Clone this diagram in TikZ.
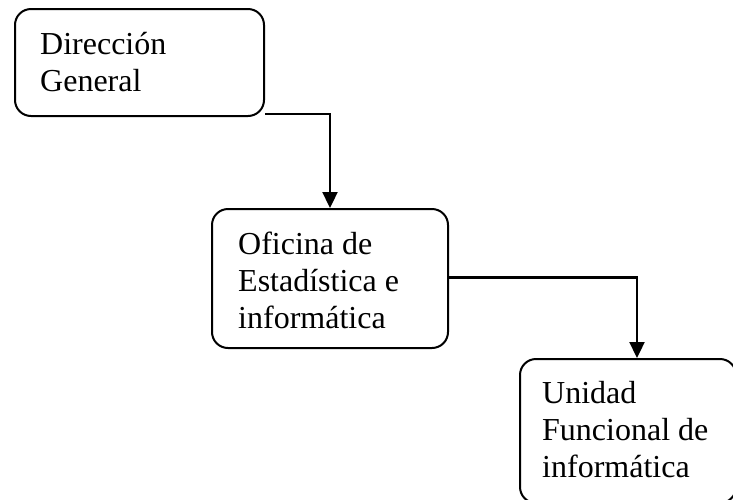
\documentclass[tikz,border=0pt]{standalone}
\usepackage{fontspec}
\setmainfont{Liberation Serif}
\usetikzlibrary{arrows.meta}
\begin{document}
\begin{tikzpicture}[x=1pt,y=-1pt,
  box/.style={draw=black, line width=2pt, rounded corners=16pt, inner sep=0pt},
  txt/.style={anchor=base west, inner sep=0pt, font=\fontsize{32}{37}\selectfont},
  conn/.style={draw=black, line width=2.3pt, -{Triangle[length=16pt,width=15pt]}}]
\useasboundingbox (0,0) rectangle (733,499);
\clip (0,0) rectangle (733,499);
% boxes
\node[box, minimum width=249pt, minimum height=107pt] (b1) at (139.5,62.5) {};
\node[box, minimum width=236pt, minimum height=139pt] (b2) at (330,278.5) {};
\node[box, minimum width=216pt, minimum height=144pt] (b3) at (628,431) {};
% texts
\node[txt] (t1a) at (40,54) {Dirección};
\node[txt] (t1b) at (40,91) {General};
\node[txt] (t2a) at (238,254) {Oficina de};
\node[txt] (t2b) at (238,291) {Estadística e};
\node[txt] (t2c) at (238,328) {informática};
\node[txt] (t3a) at (542,403) {Unidad};
\node[txt] (t3b) at (542,440) {Funcional de};
\node[txt] (t3c) at (542,477) {informática};
% connectors
\draw[conn] ([yshift=3pt]b1.south east) -| (b2.north);
\draw[conn] ([yshift=1pt]b2.east) -| ([xshift=9pt]b3.north);
\end{tikzpicture}
\end{document}
